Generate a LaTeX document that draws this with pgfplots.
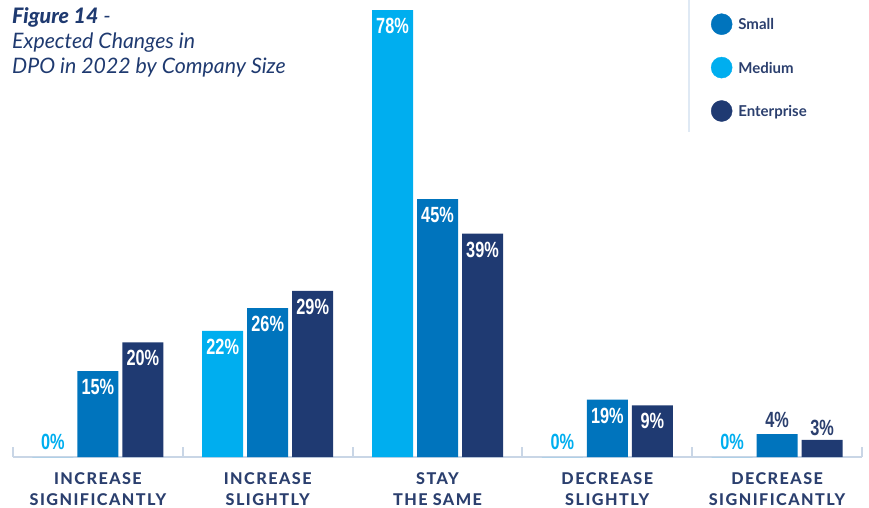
\documentclass[border=0pt]{standalone}
\usepackage{fontspec}
\setmainfont{Lato}
\newfontfamily\numfont[FakeStretch=0.74]{Liberation Sans}
\newfontfamily\catfont[LetterSpace=9]{Lato Heavy}
\newfontfamily\latoblack{Lato Black}
\usepackage{pgfplots}
\pgfplotsset{compat=1.18}
\definecolor{cMed}{HTML}{00AEEF}
\definecolor{cSmall}{HTML}{0074BD}
\definecolor{cEnt}{HTML}{1F3A72}
\definecolor{cNavy}{HTML}{1F3A70}
\definecolor{cText}{HTML}{2B3F6E}
\definecolor{cAxis}{HTML}{C9D6E6}
\definecolor{cSep}{HTML}{DFE9F4}
\begin{document}
\begin{tikzpicture}[x=1pt,y=1pt]
\useasboundingbox (0,0) rectangle (869,507);
\begin{axis}[
  at={(13pt,50pt)}, anchor=south west,
  scale only axis, width=849pt, height=447pt,
  xmin=-0.5, xmax=4.5, ymin=0, ymax=78,
  enlargelimits=false,
  ybar, bar width=41pt,
  axis y line=none,
  axis x line*=bottom,
  x axis line style={cAxis, line width=2pt, -},
  xtick={-0.5,0.5,1.5,2.5,3.5,4.5}, xticklabels={},
  xtick align=inside,
  major tick length=10pt,
  xtick style={cAxis, line width=2pt},
  extra x ticks={0,1,2,3,4},
  extra x tick labels={{INCREASE\\SIGNIFICANTLY},{INCREASE\\SLIGHTLY},{STAY\\THE SAME},{DECREASE\\SLIGHTLY},{DECREASE\\SIGNIFICANTLY}},
  extra x tick style={major tick length=0pt, xtick style={draw=none}},
  xticklabel style={align=center, inner sep=0pt, yshift=-15pt, text=cText,
    text depth=0pt, font=\catfont\fontsize{16.2}{21}\selectfont},
  clip=false,
  inlab/.style={draw=none, fill=none, point meta=explicit symbolic,
    nodes near coords={\pgfplotspointmeta\%},
    nodes near coords style={anchor=north, yshift=-8pt, inner sep=0pt, text=white,
      font=\numfont\bfseries\fontsize{22}{22}\selectfont}},
  outlab/.style={draw=none, fill=none, point meta=explicit symbolic,
    nodes near coords={\pgfplotspointmeta\%},
    nodes near coords style={anchor=south, yshift=#1, inner sep=0pt,
      font=\numfont\bfseries\fontsize{22}{22}\selectfont}},
  legend style={at={(0.8221,0.9922)}, anchor=north west, draw=none, fill=none,
    inner sep=0pt, outer sep=0pt, row sep=22pt,
    nodes={inner sep=0pt, text depth=0pt, text height=11pt, text=cText,
      font=\bfseries\fontsize{15}{15}\selectfont},
    /tikz/every odd column/.append style={column sep=6pt}},
  legend cell align=left,
  legend image code/.code={\fill[#1] (10.5pt,0pt) circle (10.5pt);},
]
% bars (heights as drawn in the reference)
\addplot[forget plot, fill=cMed, draw=none, bar shift=-45pt] coordinates {(0,0) (1,22) (2,78) (3,0) (4,0)};
\addplot[forget plot, fill=cSmall, draw=none, bar shift=0pt] coordinates {(0,15) (1,26) (2,45) (3,10) (4,4)};
\addplot[forget plot, fill=cEnt, draw=none, bar shift=45pt] coordinates {(0,20) (1,29) (2,39) (3,9) (4,3)};
% inside labels
\addplot[forget plot, inlab, bar shift=-45pt] coordinates {(1,22)[22] (2,78)[78]};
\addplot[forget plot, inlab, bar shift=0pt] coordinates {(0,15)[15] (1,26)[26] (2,45)[45] (3,10)[19]};
\addplot[forget plot, inlab, bar shift=45pt] coordinates {(0,20)[20] (1,29)[29] (2,39)[39] (3,9)[9]};
% outside labels
\addplot[forget plot, outlab=7pt, bar shift=-45pt, nodes near coords style={text=cMed}] coordinates {(0,0)[0] (3,0)[0] (4,0)[0]};
\addplot[forget plot, outlab=6pt, bar shift=0pt, nodes near coords style={text=cText}] coordinates {(4,4)[4]};
\addplot[forget plot, outlab=4pt, bar shift=45pt, nodes near coords style={text=cText}] coordinates {(4,3)[3]};
% legend
\addlegendimage{cSmall}\addlegendentry{Small}
\addlegendimage{cMed}\addlegendentry{Medium}
\addlegendimage{cEnt}\addlegendentry{Enterprise}
\end{axis}
\draw[cSep, line width=2.5pt] (689,507) -- (689,375);
\node[anchor=base west, inner sep=0pt, text=cNavy, font=\itshape\fontsize{21.3}{25}\selectfont] at (12,483) {{\latoblack\itshape Figure 14} -};
\node[anchor=base west, inner sep=0pt, text=cNavy, font=\itshape\fontsize{21.3}{25}\selectfont] at (12,458) {Expected Changes in};
\node[anchor=base west, inner sep=0pt, text=cNavy, font=\itshape\fontsize{21.3}{25}\selectfont] at (12,433) {DPO in 2022 by Company Size};
\end{tikzpicture}
\end{document}
